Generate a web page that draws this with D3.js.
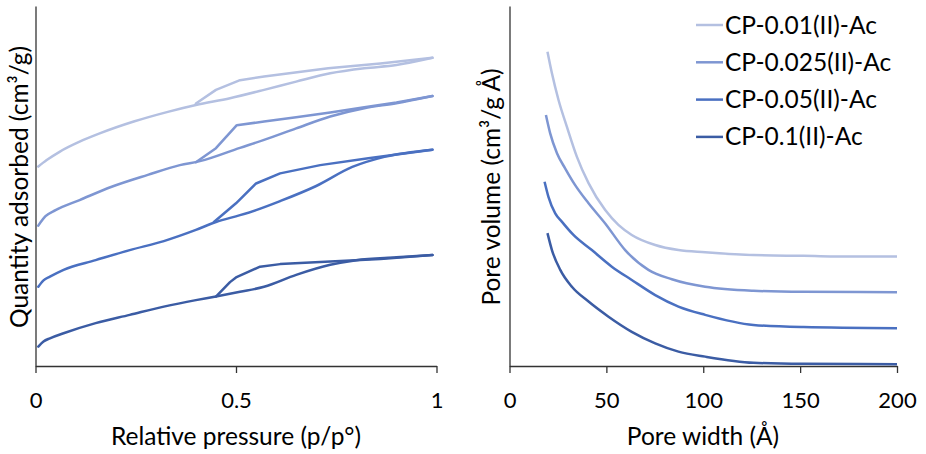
<!DOCTYPE html>
<html>
<head>
<meta charset="utf-8">
<script src="https://cdn.jsdelivr.net/npm/d3@7"></script>
<style>
  html, body { margin: 0; padding: 0; background: #fff; }
  svg { display: block; font-family: Lato, "Open Sans", sans-serif; }
</style>
</head>
<body>
<svg id="chart" width="926" height="454"></svg>
<script>
// Sample names and line colours
const seriesNames = ["CP-0.01(II)-Ac", "CP-0.025(II)-Ac", "CP-0.05(II)-Ac", "CP-0.1(II)-Ac"];
const seriesColors = ["#b4c0e1", "#7e96d2", "#4a70c1", "#3b5ca4"];

// N2 isotherms (offset for clarity): [p/p°, quantity], adsorption then desorption branch
const ads001 = [[0.007,55.4],[0.028,57.2],[0.06,59.5],[0.11,62.3],[0.16,64.6],[0.245,67.9],[0.33,70.6],[0.40,72.5],[0.485,74.4],[0.57,76.7],[0.65,79.0],[0.735,81.3],[0.82,82.7],[0.90,83.6],[0.99,85.6]];
const des001 = [[0.99,85.6],[0.86,84.0],[0.73,82.7],[0.57,80.4],[0.51,79.4],[0.45,76.7],[0.40,72.9]];
const ads0025 = [[0.007,39.0],[0.025,41.6],[0.05,43.3],[0.11,46.1],[0.19,49.8],[0.28,53.1],[0.36,55.8],[0.41,56.9],[0.51,60.6],[0.57,62.8],[0.65,66.0],[0.735,69.3],[0.82,71.6],[0.90,73.0],[0.99,75.0]];
const des0025 = [[0.99,75.0],[0.90,73.2],[0.82,71.9],[0.735,70.4],[0.65,69.1],[0.57,67.9],[0.502,66.9],[0.45,60.5],[0.40,56.6]];
const ads005 = [[0.007,22.0],[0.02,23.8],[0.036,24.8],[0.07,26.7],[0.15,29.4],[0.235,32.2],[0.32,34.7],[0.40,37.8],[0.45,40.0],[0.51,41.9],[0.55,43.3],[0.61,45.8],[0.70,50.0],[0.79,55.3],[0.87,58.1],[0.99,60.1]];
const des005 = [[0.99,60.1],[0.83,57.7],[0.71,55.8],[0.61,53.5],[0.55,50.7],[0.50,45.2],[0.445,40.0]];
const ads01 = [[0.007,5.4],[0.02,6.8],[0.036,7.7],[0.07,9.1],[0.15,11.9],[0.235,14.2],[0.32,16.5],[0.40,18.3],[0.45,19.3],[0.51,20.6],[0.57,22.0],[0.65,25.3],[0.735,28.1],[0.80,29.4],[0.90,30.2],[0.99,30.8]];
const des01 = [[0.99,30.8],[0.86,29.7],[0.735,29.0],[0.61,28.3],[0.56,27.6],[0.50,24.6],[0.485,23.3],[0.45,19.3]];

// Pore size distributions (offset for clarity): [pore width Å, pore volume]
const psd001 = [[19.6,87.3],[21.9,81.3],[25.3,73.9],[29.6,66.5],[34.8,58.1],[40.8,50.8],[49.4,43.3],[56.2,39.2],[63.1,36.4],[75.2,33.6],[87.2,32.2],[101,31.6],[125.9,30.8],[151.7,30.6],[177.5,30.4],[200,30.4]];
const psd0025 = [[18.8,69.7],[21.0,64.6],[24.5,59.1],[28.7,54.9],[33.8,50.3],[40.8,45.2],[49.4,39.6],[59.7,32.2],[71.7,26.7],[83.8,24.1],[101,22.0],[125.9,20.9],[151.7,20.6],[200,20.5]];
const psd005 = [[18.1,51.2],[20.1,47.0],[23.6,42.4],[27.0,40.1],[33.0,36.4],[42.5,32.2],[52.8,27.6],[63.1,23.9],[75.2,19.7],[87.2,16.5],[101,14.2],[125.9,11.4],[151.7,10.8],[200,10.5]];
const psd01 = [[19.6,36.9],[21.9,32.2],[26.2,26.7],[32.2,22.0],[40.8,17.9],[51.1,13.7],[63.1,9.5],[75.2,6.3],[87.2,4.0],[101,2.6],[125.9,0.9],[151.7,0.6],[200,0.5]];

// Axis ticks and titles
const isoTicks = [0, 0.5, 1];
const psdTicks = [0, 50, 100, 150, 200];
const isoXTitle = "Relative pressure (p/p°)";
const isoYTitle = "Quantity adsorbed (cm³/g)";
const psdXTitle = "Pore width (Å)";
const psdYTitle = "Pore volume (cm³/g Å)";

const isotherms = [[ads001, des001], [ads0025, des0025], [ads005, des005], [ads01, des01]];
const distributions = [psd001, psd0025, psd005, psd01];

const svg = d3.select("#chart");
const TICK_FONT = 22;
const TITLE_FONT = 24.5;
const AXIS_COLOR = "#333";

// ---- Left panel: isotherms ----
const xIso = d3.scaleLinear().domain([0, 1]).range([35.5, 436.5]);
const yIso = d3.scaleLinear().domain([0, 100]).range([366, 6]);

// ---- Right panel: pore size distribution ----
const xPsd = d3.scaleLinear().domain([0, 200]).range([509.5, 897]);
const yPsd = d3.scaleLinear().domain([0, 100]).range([366, 6]);

function drawAxes(x, y, ticks, fmt) {
  const gx = svg.append("g")
    .attr("transform", `translate(0,${y(0)})`)
    .call(d3.axisBottom(x).tickValues(ticks).tickSize(7).tickSizeOuter(0).tickFormat(fmt));
  gx.select(".domain").attr("stroke", AXIS_COLOR).attr("stroke-width", 1.3);
  gx.selectAll(".tick line").attr("stroke", AXIS_COLOR).attr("stroke-width", 1.3);
  gx.selectAll(".tick text")
    .attr("y", 42).attr("dy", 0)
    .attr("fill", "#000")
    .style("font-family", "Lato, sans-serif")
    .style("font-size", TICK_FONT + "px");

  const gy = svg.append("g")
    .attr("transform", `translate(${x(0)},0)`)
    .call(d3.axisLeft(y).tickValues([]).tickSizeOuter(0));
  gy.select(".domain").attr("stroke", AXIS_COLOR).attr("stroke-width", 1.3);
}

drawAxes(xIso, yIso, isoTicks, d => d3.format("")(d));
drawAxes(xPsd, yPsd, psdTicks, d => d3.format("")(d));

// adsorption branches are smooth, desorption branches keep their sharp steps
const adsLine = d3.line().x(d => xIso(d[0])).y(d => yIso(d[1])).curve(d3.curveMonotoneX);
const desLine = d3.line().x(d => xIso(d[0])).y(d => yIso(d[1]));
isotherms.forEach((branches, i) => {
  branches.forEach((branch, b) => {
    svg.append("path")
      .datum(branch)
      .attr("d", b === 0 ? adsLine : desLine)
      .attr("fill", "none")
      .attr("stroke", seriesColors[i])
      .attr("stroke-width", 2.5)
      .attr("stroke-linejoin", "round")
      .attr("stroke-linecap", "round");
  });
});

const psdLine = d3.line().x(d => xPsd(d[0])).y(d => yPsd(d[1])).curve(d3.curveMonotoneX);
distributions.forEach((data, i) => {
  svg.append("path")
    .datum(data)
    .attr("d", psdLine)
    .attr("fill", "none")
    .attr("stroke", seriesColors[i])
    .attr("stroke-width", 2.5)
    .attr("stroke-linejoin", "round");
});

// Axis titles
function title(text, x, y, rotate) {
  svg.append("text")
    .attr("transform", `translate(${x},${y})` + (rotate ? " rotate(-90)" : ""))
    .attr("text-anchor", "middle")
    .style("font-size", TITLE_FONT + "px")
    .attr("fill", "#000")
    .text(text);
}
title(isoXTitle, 236, 445, false);
title(isoYTitle, 28, 187, true);
title(psdXTitle, 703, 445, false);
title(psdYTitle, 500, 187, true);

// Legend
const legend = svg.append("g").attr("transform", "translate(696,25)");
seriesNames.forEach((name, i) => {
  const row = legend.append("g").attr("transform", `translate(0,${i * 37.3})`);
  row.append("line")
    .attr("x1", 0).attr("x2", 27).attr("y1", 0).attr("y2", 0)
    .attr("stroke", seriesColors[i]).attr("stroke-width", 2.5);
  row.append("text")
    .attr("x", 29).attr("y", 8.5)
    .style("font-size", TITLE_FONT + "px")
    .attr("fill", "#000")
    .text(name);
});
</script>
</body>
</html>
